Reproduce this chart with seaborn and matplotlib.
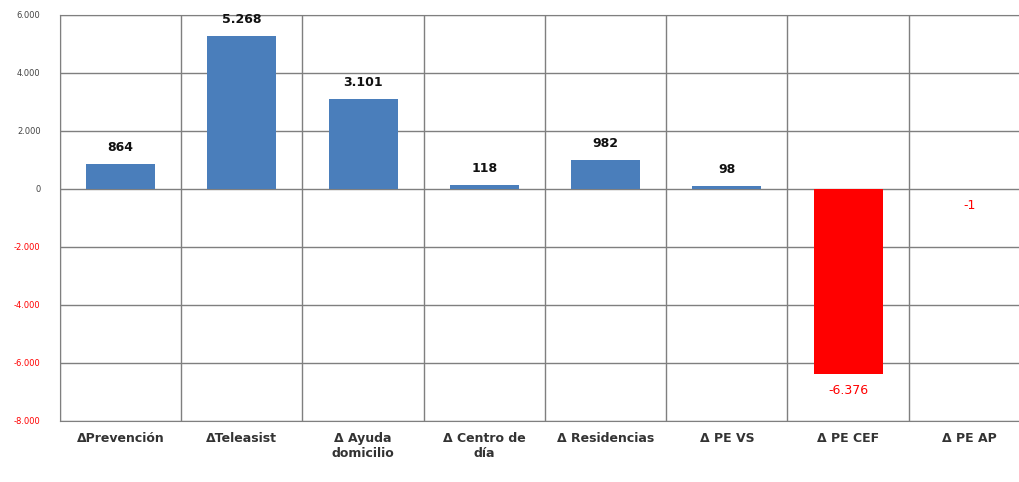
import matplotlib
matplotlib.use("Agg")
import matplotlib.pyplot as plt
import seaborn as sns
import pandas as pd

categorias = ["ΔPrevención", "ΔTeleasist", "Δ Ayuda\ndomicilio", "Δ Centro de\ndía",
              "Δ Residencias", "Δ PE VS", "Δ PE CEF", "Δ PE AP"]
valores = [864, 5268, 3101, 118, 982, 98, -6376, -1]
yticks = [-8000, -6000, -4000, -2000, 0, 2000, 4000, 6000]

azul = "#4A7EBB"
rojo = "#FF0000"


def fmt_es(v):
    return f"{v:,.0f}".replace(",", ".")


df = pd.DataFrame({"cat": categorias, "valor": valores})
colores = [azul if v >= 0 else rojo for v in valores]

sns.set_style("white")
plt.rcParams["font.family"] = ["DejaVu Sans"]

fig = plt.figure(figsize=(10.2, 4.82), dpi=100)
ax = fig.add_axes([0.0588, 0.127, 0.951, 0.842])

sns.barplot(data=df, x="cat", y="valor", hue="cat", palette=colores,
            legend=False, width=0.57, ax=ax, saturation=1,
            edgecolor="none", linewidth=0)

ax.set_ylim(-8000, 6000)
ax.set_xlim(-0.5, len(categorias) - 0.5)
ax.set_yticks(yticks)
ax.set_yticklabels([fmt_es(t) for t in yticks], fontsize=6)
for lbl, t in zip(ax.get_yticklabels(), yticks):
    lbl.set_color(rojo if t < 0 else "#444444")

ax.set_xticks(range(len(categorias)))
ax.set_xticklabels(categorias, fontsize=9, fontweight="bold", color="#333333")
ax.tick_params(axis="x", length=0, pad=8)
ax.tick_params(axis="y", length=0, pad=14)

# rejilla
ax.set_xticks([i - 0.5 for i in range(len(categorias))], minor=True)
ax.grid(True, axis="y", which="major", color="#7f7f7f", linewidth=1)
ax.grid(True, axis="x", which="minor", color="#7f7f7f", linewidth=1)
ax.tick_params(which="minor", length=0)
ax.set_axisbelow(True)
for s in ax.spines.values():
    s.set_color("#7f7f7f")
ax.spines["right"].set_visible(False)

ax.set_xlabel("")
ax.set_ylabel("")

# etiquetas de valor
for i, v in enumerate(valores):
    if v >= 0:
        ax.text(i, v + 350, fmt_es(v), ha="center", va="bottom", fontsize=9,
                fontweight="bold", color="#111111")
    else:
        ax.text(i, v - 350, fmt_es(v), ha="center", va="top", fontsize=9,
                color=rojo)

fig.savefig("out.png", dpi=100)
